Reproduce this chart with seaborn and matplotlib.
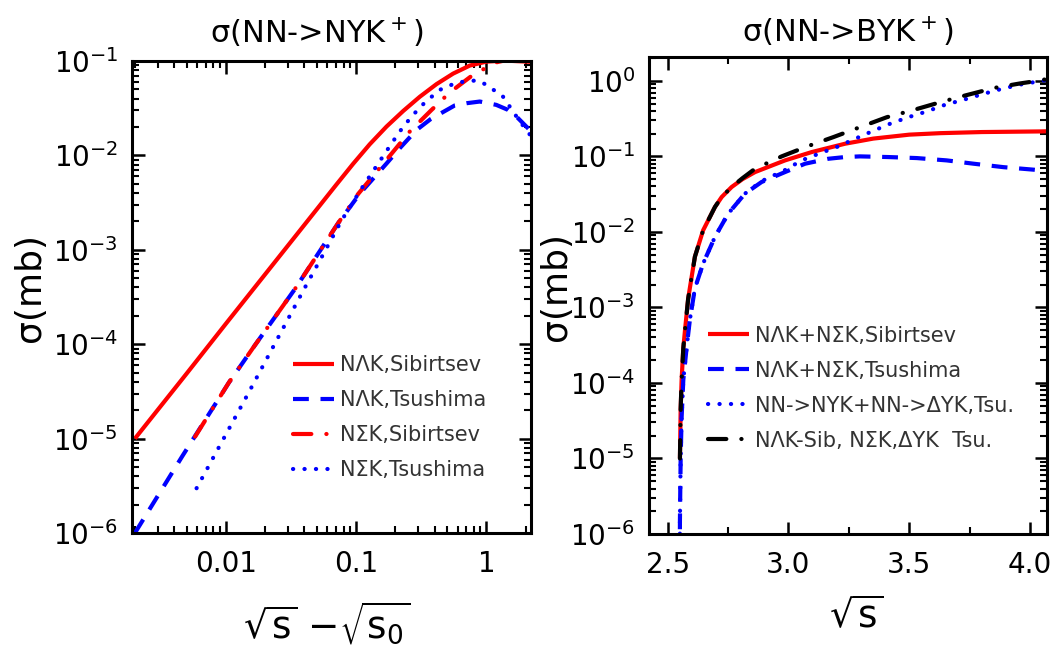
import numpy as np
import pandas as pd
import matplotlib
matplotlib.use("Agg")
import matplotlib.pyplot as plt
from matplotlib.ticker import FixedLocator, FixedFormatter, LogLocator, NullFormatter
import seaborn as sns

sns.set_theme(style="ticks", rc={"axes.edgecolor": "black", "text.color": "black",
                                 "xtick.color": "black", "ytick.color": "black",
                                 "axes.labelcolor": "black"})
plt.rcParams["font.family"] = ["DejaVu Sans"]
plt.rcParams["mathtext.fontset"] = "dejavusans"
plt.rcParams["mathtext.default"] = "regular"

# ---------------- left panel: sigma(NN -> N Y K+) vs sqrt(s) - sqrt(s0) ----------------
nlk_sib_x = [0.002, 0.005, 0.01, 0.02, 0.0526, 0.07, 0.0948, 0.127, 0.171, 0.23, 0.308,
             0.414, 0.555, 0.746, 1.0, 1.4, 2.2]
nlk_sib_y = [1.0e-5, 4.9e-5, 1.65e-4, 5.5e-4, 2.95e-3, 4.85e-3, 8.15e-3, 0.0131, 0.0202,
             0.0296, 0.0418, 0.0569, 0.0735, 0.0895, 0.0985, 0.101, 0.098]

nlk_tsu_x = [0.002, 0.00462, 0.01054, 0.0162, 0.0339, 0.0728, 0.1067, 0.171, 0.216, 0.291,
             0.374, 0.571, 0.703, 0.89, 1.19, 1.47, 1.70, 2.2]
nlk_tsu_y = [1.0e-6, 6.5e-6, 3.92e-5, 9.2e-5, 3.85e-4, 1.92e-3, 3.94e-3, 8.2e-3, 0.0119, 0.0186,
             0.0243, 0.0338, 0.0357, 0.0372, 0.0343, 0.0303, 0.0258, 0.018]

nsk_sib_x = [0.0058, 0.0105, 0.0162, 0.0339, 0.0728, 0.1035, 0.192, 0.258, 0.379, 0.524,
             0.79, 1.19, 1.5, 2.2]
nsk_sib_y = [1.05e-5, 3.9e-5, 9.2e-5, 3.85e-4, 1.92e-3, 3.9e-3, 0.0109, 0.0179, 0.0303, 0.0465,
             0.0714, 0.0968, 0.104, 0.105]

nsk_tsu_x = [0.00595, 0.01483, 0.0392, 0.0552, 0.0773, 0.11, 0.176, 0.216, 0.266, 0.337,
             0.439, 0.596, 0.849, 1.0, 1.34, 1.77, 2.2]
nsk_tsu_y = [2.98e-6, 3.01e-5, 3.69e-4, 8.7e-4, 2.05e-3, 4.46e-3, 0.0118, 0.0179, 0.0258, 0.0364,
             0.0495, 0.0593, 0.0624, 0.056, 0.042, 0.0238, 0.016]

# ---------------- right panel: sigma(NN -> B Y K+) vs sqrt(s) ----------------
sum_sib_x = [2.551, 2.554, 2.558, 2.565, 2.572, 2.585, 2.592, 2.613, 2.647, 2.696, 2.724,
             2.765, 2.81, 2.862, 2.986, 3.096, 3.234, 3.351, 3.5, 3.628, 3.8, 4.04, 4.07]
sum_sib_y = [1.0e-5, 4.5e-5, 1.1e-4, 2.9e-4, 5.0e-4, 1.3e-3, 1.8e-3, 4.7e-3, 0.0105, 0.0214,
             0.029, 0.0393, 0.05, 0.062, 0.0885, 0.114, 0.147, 0.172, 0.194, 0.203, 0.21,
             0.214, 0.215]

sum_tsu_x = [2.5505, 2.551, 2.5525, 2.554, 2.558, 2.565, 2.579, 2.592, 2.613, 2.647, 2.696,
             2.751, 2.82, 2.889, 2.986, 3.069, 3.165, 3.234, 3.296, 3.413, 3.531, 3.655,
             3.766, 3.89, 4.014, 4.07]
sum_tsu_y = [5e-7, 1.5e-6, 4e-6, 1.0e-5, 3.5e-5, 1.1e-4, 3.0e-4, 6.8e-4, 1.79e-3, 3.82e-3,
             8.6e-3, 0.0175, 0.0321, 0.0458, 0.062, 0.080, 0.093, 0.098, 0.1, 0.098, 0.095,
             0.0885, 0.080, 0.072, 0.0667, 0.064]

all_tsu_x = [2.5505, 2.551, 2.5525, 2.554, 2.558, 2.565, 2.579, 2.592, 2.613, 2.647, 2.696,
             2.751, 2.82, 2.889, 2.986, 3.055, 3.124, 3.2, 3.276, 3.345, 3.42, 3.496, 3.572,
             3.648, 3.724, 3.807, 3.883, 3.959, 4.04, 4.07]
all_tsu_y = [5e-7, 1.5e-6, 4e-6, 1.0e-5, 3.5e-5, 1.1e-4, 3.0e-4, 6.8e-4, 1.79e-3, 3.82e-3,
             8.6e-3, 0.0175, 0.0321, 0.047, 0.066, 0.0885, 0.108, 0.133, 0.171, 0.214, 0.27,
             0.33, 0.393, 0.482, 0.561, 0.673, 0.783, 0.893, 0.99, 1.03]

mixed_x = [2.551, 2.554, 2.558, 2.565, 2.572, 2.585, 2.592, 2.613, 2.647, 2.696, 2.724,
           2.765, 2.81, 2.862, 2.972, 3.076, 3.186, 3.289, 3.407, 3.51, 3.628, 3.731, 3.855,
           3.959, 4.04, 4.07]
mixed_y = [1.0e-5, 4.5e-5, 1.1e-4, 2.9e-4, 5.0e-4, 1.3e-3, 1.8e-3, 4.7e-3, 0.0105, 0.0214,
           0.029, 0.0393, 0.0515, 0.0687, 0.1, 0.135, 0.18, 0.239, 0.33, 0.405, 0.521, 0.64,
           0.81, 0.925, 1.01, 1.06]

left_labels = ["NΛK,Sibirtsev", "NΛK,Tsushima", "NΣK,Sibirtsev", "NΣK,Tsushima"]
right_labels = ["NΛK+NΣK,Sibirtsev", "NΛK+NΣK,Tsushima", "NN->NYK+NN->ΔYK,Tsu.",
                "NΛK-Sib, NΣK,ΔYK  Tsu."]

left_xticks = [0.01, 0.1, 1]
left_xticklabels = ["0.01", "0.1", "1"]
right_xticks = [2.5, 3.0, 3.5, 4.0]
right_xticklabels = ["2.5", "3.0", "3.5", "4.0"]

RED, BLUE, BLACK = "#ff0000", "#0000ff", "#000000"
LW = 3.0
SOLID = "-"
DASHED = (0, (3.8, 2.8))
DOTTED = (0, (0.05, 2.7))
DASHDOT = (0, (4.4, 3.6, 0.05, 3.6))


def draw(ax, x, y, color, ls, label):
    df = pd.DataFrame({"x": x, "y": y})
    sns.lineplot(data=df, x="x", y="y", ax=ax, color=color, linestyle=ls, lw=LW,
                 label=label, sort=False, estimator=None,
                 dash_capstyle="round" if ls in (DOTTED, DASHDOT) else "butt",
                 solid_capstyle="butt", solid_joinstyle="round")


fig = plt.figure(figsize=(10.55, 6.58), dpi=100)
ax1 = fig.add_axes([132 / 1055, 1 - 533 / 658, 399 / 1055, 472 / 658])
ax2 = fig.add_axes([649 / 1055, 1 - 534 / 658, 398 / 1055, 477 / 658])

draw(ax1, nlk_sib_x, nlk_sib_y, RED, SOLID, left_labels[0])
draw(ax1, nlk_tsu_x, nlk_tsu_y, BLUE, DASHED, left_labels[1])
draw(ax1, nsk_sib_x, nsk_sib_y, RED, DASHDOT, left_labels[2])
draw(ax1, nsk_tsu_x, nsk_tsu_y, BLUE, DOTTED, left_labels[3])

draw(ax2, sum_sib_x, sum_sib_y, RED, SOLID, right_labels[0])
draw(ax2, sum_tsu_x, sum_tsu_y, BLUE, DASHED, right_labels[1])
draw(ax2, all_tsu_x, all_tsu_y, BLUE, DOTTED, right_labels[2])
draw(ax2, mixed_x, mixed_y, BLACK, DASHDOT, right_labels[3])

# axes scales and limits
ax1.set_xscale("log")
ax1.set_yscale("log")
ax1.set_xlim(0.0019, 2.2)
ax1.set_ylim(1e-6, 1e-1)
ax2.set_yscale("log")
ax2.set_xlim(2.423, 4.07)
ax2.set_ylim(1e-6, 2.07)

ax1.xaxis.set_major_locator(FixedLocator(left_xticks))
ax1.xaxis.set_major_formatter(FixedFormatter(left_xticklabels))
ax1.xaxis.set_minor_locator(LogLocator(base=10, subs=np.arange(2, 10), numticks=100))
ax1.xaxis.set_minor_formatter(NullFormatter())

ax2.xaxis.set_major_locator(FixedLocator(right_xticks))
ax2.xaxis.set_major_formatter(FixedFormatter(right_xticklabels))
ax2.xaxis.set_minor_locator(FixedLocator([2.75, 3.25, 3.75]))

for ax in (ax1, ax2):
    ax.yaxis.set_major_locator(LogLocator(base=10, numticks=100))
    ax.yaxis.set_minor_locator(LogLocator(base=10, subs=np.arange(2, 10), numticks=100))
    ax.yaxis.set_minor_formatter(NullFormatter())
    ax.tick_params(which="both", direction="in", top=True, right=True, colors="black")
    ax.tick_params(which="major", length=9, width=1.8, labelsize=20)
    ax.tick_params(axis="x", which="major", pad=12)
    ax.tick_params(axis="y", which="major", pad=10)
    ax.tick_params(which="minor", length=5, width=1.5)
    for sp in ax.spines.values():
        sp.set_linewidth(2.2)
        sp.set_color("black")
    ax.set_ylabel("σ(mb)", fontsize=26)
    ax.grid(False)

ax1.yaxis.set_label_coords(-0.213, 0.521)
ax2.yaxis.set_label_coords(-0.192, 0.518)

ax1.set_xlabel(r"$\sqrt{s}$ −$\sqrt{s_0}$", fontsize=27)
ax2.set_xlabel(r"$\sqrt{s}$", fontsize=27)
ax1.xaxis.set_label_coords(0.489, -0.142)
ax2.xaxis.set_label_coords(0.52, -0.132)

ax1.set_title("σ(NN->NYK$^+$)", fontsize=22, pad=13, x=0.464)
ax2.set_title("σ(NN->BYK$^+$)", fontsize=22, pad=11)

leg_kw = dict(frameon=False, fontsize=15, handlelength=1.95, handletextpad=0.33,
              labelspacing=0.72, borderpad=0, borderaxespad=0, loc="upper left",
              labelcolor="#333333")
ax1.legend(**leg_kw, bbox_to_anchor=(0.4035, 0.377))
ax2.legend(**leg_kw, bbox_to_anchor=(0.148, 0.437))

fig.savefig("out.png", dpi=100)
